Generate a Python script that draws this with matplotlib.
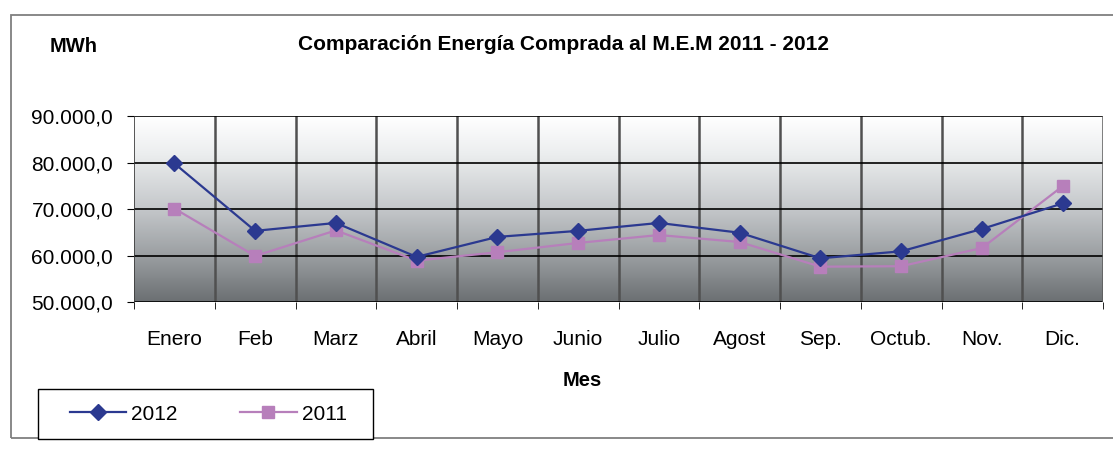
import numpy as np
import matplotlib
matplotlib.use("Agg")
from matplotlib import pyplot as plt
from matplotlib.colors import LinearSegmentedColormap
from matplotlib.patches import Rectangle

plt.rcParams['font.family'] = ['Liberation Sans', 'DejaVu Sans']

# DATA
meses = ['Enero', 'Feb', 'Marz', 'Abril', 'Mayo', 'Junio', 'Julio',
         'Agost', 'Sep.', 'Octub.', 'Nov.', 'Dic.']
mwh_2012 = [79800, 65300, 67000, 59700, 64000, 65300, 67000, 64900,
            59400, 60900, 65700, 71200]
mwh_2011 = [70100, 59900, 65400, 58900, 60700, 62700, 64400, 62900,
            57600, 57700, 61600, 74900]
yticks = [50000, 60000, 70000, 80000, 90000]

def fmt(v):
    # 90.000,0 style
    return f"{v:,.1f}".replace(",", "X").replace(".", ",").replace("X", ".")

W, H = 1113, 451
fig = plt.figure(figsize=(W / 100, H / 100), dpi=100)
ax = fig.add_axes([134 / W, 1 - 302 / H, (1103 - 134) / W, (302 - 116) / H])

# gradient background of the plot area
cmap = LinearSegmentedColormap.from_list(
    'bg', [(0.0, '#6b6f72'), (0.25, '#9b9fa2'), (0.5, '#c4c7ca'),
           (0.8, '#eceeef'), (1.0, '#ffffff')])
grad = np.linspace(0, 1, 256).reshape(-1, 1)
ax.imshow(grad, extent=[0, 1, 0, 1], transform=ax.transAxes, aspect='auto',
          cmap=cmap, origin='lower', zorder=0)

x = np.arange(len(meses))
ax.plot(x, mwh_2012, color='#2b3990', marker='D', markersize=8, lw=1.6,
        label='2012', zorder=4)
ax.plot(x, mwh_2011, color='#b77fbb', marker='s', markersize=8, lw=1.6,
        label='2011', zorder=3)

ax.set_xlim(-0.5, len(meses) - 0.5)
ax.set_ylim(50000, 90000)
ax.set_yticks(yticks)
ax.set_yticklabels([fmt(v) for v in yticks], fontsize=15)
ax.set_xticks(x)
ax.set_xticklabels(meses, fontsize=15)
ax.set_xticks(np.arange(-0.5, len(meses), 1), minor=True)
ax.tick_params(axis='x', which='major', length=0, pad=20)
ax.tick_params(axis='x', which='minor', length=5, direction='out')
ax.tick_params(axis='y', length=5, direction='out', pad=10)

for yv in yticks:
    ax.axhline(yv, color='black', lw=1.2, zorder=2)
for xv in np.arange(0.5, len(meses) - 1, 1):
    ax.axvline(xv, color='#505050', lw=1.8, zorder=1)
for s in ax.spines.values():
    s.set_visible(False)
ax.axvline(-0.5, color='#3a3a3a', lw=1.2, zorder=2)
ax.axvline(len(meses) - 0.5, color='#5a5a5a', lw=1.8, zorder=2)

fig.text(50 / W, 1 - 46 / H, 'MWh', fontsize=14.5, fontweight='bold',
         va='center', ha='left')
fig.text(564 / W, 1 - 45 / H, 'Comparación Energía Comprada al M.E.M 2011 - 2012',
         fontsize=15, fontweight='bold', va='center', ha='center')
fig.text(582 / W, 1 - 380 / H, 'Mes', fontsize=14.5, fontweight='bold',
         va='center', ha='center')

# outer frame
fig.patches.append(Rectangle((11 / W, 1 - 438 / H), 1.2, (438 - 15) / H,
                             transform=fig.transFigure, fill=False,
                             edgecolor='#7f7f7f', lw=1.3, zorder=0))

# legend box
fig.patches.append(Rectangle((38 / W, 1 - 439 / H), (373 - 38) / W, (439 - 389) / H,
                             transform=fig.transFigure, facecolor='white',
                             edgecolor='black', lw=1.0, zorder=1))
leg = fig.legend(loc='center left', bbox_to_anchor=(70 / W, 1 - 414 / H),
                 ncol=2, fontsize=15, frameon=False, handlelength=2.7,
                 handletextpad=0.25, borderaxespad=0, borderpad=0,
                 columnspacing=3.0)
leg.set_zorder(5)

fig.savefig('out.png', dpi=100)
